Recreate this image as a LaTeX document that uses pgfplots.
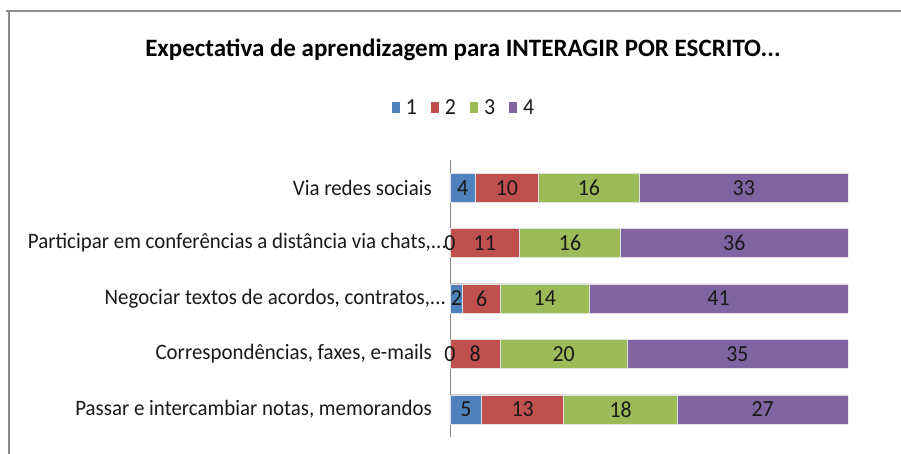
\documentclass[border=0pt]{standalone}
\usepackage{pgfplots}
\usepackage{pgfplotstable}
\pgfplotsset{compat=1.18}
\usepackage{fontspec}
\setmainfont[FakeStretch=0.95]{Carlito}
\newfontfamily\titlefont{Carlito}
\definecolor{c1}{HTML}{4F81BD}
\definecolor{c2}{HTML}{C0504D}
\definecolor{c3}{HTML}{9BBB59}
\definecolor{c4}{HTML}{8064A2}
\definecolor{framec}{HTML}{8C8C8C}
\definecolor{axc}{HTML}{868686}
\pgfplotstableread{
y a b c d
0 5 13 18 27
1 0 8 20 35
2 2 6 14 41
3 0 11 16 36
4 4 10 16 33
}\data
% cumulative ends and segment midpoints, derived from the values above
\pgfplotstablecreatecol[expr={\thisrow{a}+\thisrow{b}}]{ab}{\data}
\pgfplotstablecreatecol[expr={\thisrow{a}+\thisrow{b}+\thisrow{c}}]{abc}{\data}
\pgfplotstablecreatecol[expr={\thisrow{a}+\thisrow{b}+\thisrow{c}+\thisrow{d}}]{tot}{\data}
\pgfplotstablecreatecol[expr={\thisrow{a}/2}]{ma}{\data}
\pgfplotstablecreatecol[expr={\thisrow{a}+\thisrow{b}/2}]{mb}{\data}
\pgfplotstablecreatecol[expr={\thisrow{a}+\thisrow{b}+\thisrow{c}/2}]{mc}{\data}
\pgfplotstablecreatecol[expr={\thisrow{a}+\thisrow{b}+\thisrow{c}+\thisrow{d}/2}]{md}{\data}
\newcommand{\lblfont}{\fontsize{22bp}{26bp}\selectfont}
\newcommand{\numfont}{\fontsize{23bp}{27bp}\selectfont}
\newcommand{\dd}{.\kern0pt.\kern0pt.}
\begin{document}
\begin{tikzpicture}[x=1bp,y=1bp]
\path[use as bounding box] (0,0) rectangle (901,454);
\draw[framec, line width=2bp] (6,443) -- (901,443);
\draw[framec, line width=2bp] (9,443) -- (9,0);
\node[font=\titlefont\fontsize{25bp}{30bp}\selectfont\bfseries, inner sep=0pt] at (463,404) {Expectativa de aprendizagem para INTERAGIR POR ESCRITO\dd};
\begin{axis}[
  at={(450bp,17bp)}, anchor=south west,
  scale only axis, width=398bp, height=277bp,
  xmin=0, xmax=63, ymin=-0.5, ymax=4.5,
  hide x axis,
  axis y line*=left,
  y axis line style={axc, line width=1bp},
  major tick length=0pt,
  ytick={0,1,2,3,4},
  yticklabels={{Passar e intercambiar notas, memorandos},{Correspondências, faxes, e-mails},{Negociar textos de acordos, contratos,\dd\kern-14bp},{Participar em conferências a distância via chats,\dd\kern-15bp},{Via redes sociais}},
  yticklabel style={font=\lblfont, inner sep=0pt, xshift=-18bp, text=black!90},
  bars/.style={xbar, bar width=29bp, bar shift=0pt, draw=black!12, line width=0.5bp, forget plot},
  lbl/.style={draw=none, mark=none, forget plot, nodes near coords, point meta=explicit symbolic,
    every node near coord/.append style={font=\numfont, text=black!90, anchor=center, inner sep=0pt}},
  legend style={at={(0.0327,1.1877)}, anchor=center, draw=none, fill=none, legend columns=-1, font=\numfont, text=black!90,
    nodes={inner sep=0pt},
    /tikz/every odd column/.append style={column sep=6bp},
    /tikz/every even column/.append style={column sep=14bp}},
  legend image code/.code={\fill[#1,draw=none] (0bp,-5.5bp) rectangle (8bp,5.5bp);},
]
\addlegendimage{fill=c1}
\addlegendimage{fill=c2}
\addlegendimage{fill=c3}
\addlegendimage{fill=c4}
\addplot[bars, fill=c4] table[x=tot,y=y]{\data};
\addplot[bars, fill=c3] table[x=abc,y=y]{\data};
\addplot[bars, fill=c2] table[x=ab,y=y]{\data};
\addplot[bars, fill=c1] table[x=a,y=y]{\data};
\addplot[lbl] table[x=ma,y=y,meta=a]{\data};
\addplot[lbl] table[x=mb,y=y,meta=b]{\data};
\addplot[lbl] table[x=mc,y=y,meta=c]{\data};
\addplot[lbl] table[x=md,y=y,meta=d]{\data};
\legend{1,2,3,4}
\end{axis}
\end{tikzpicture}
\end{document}
